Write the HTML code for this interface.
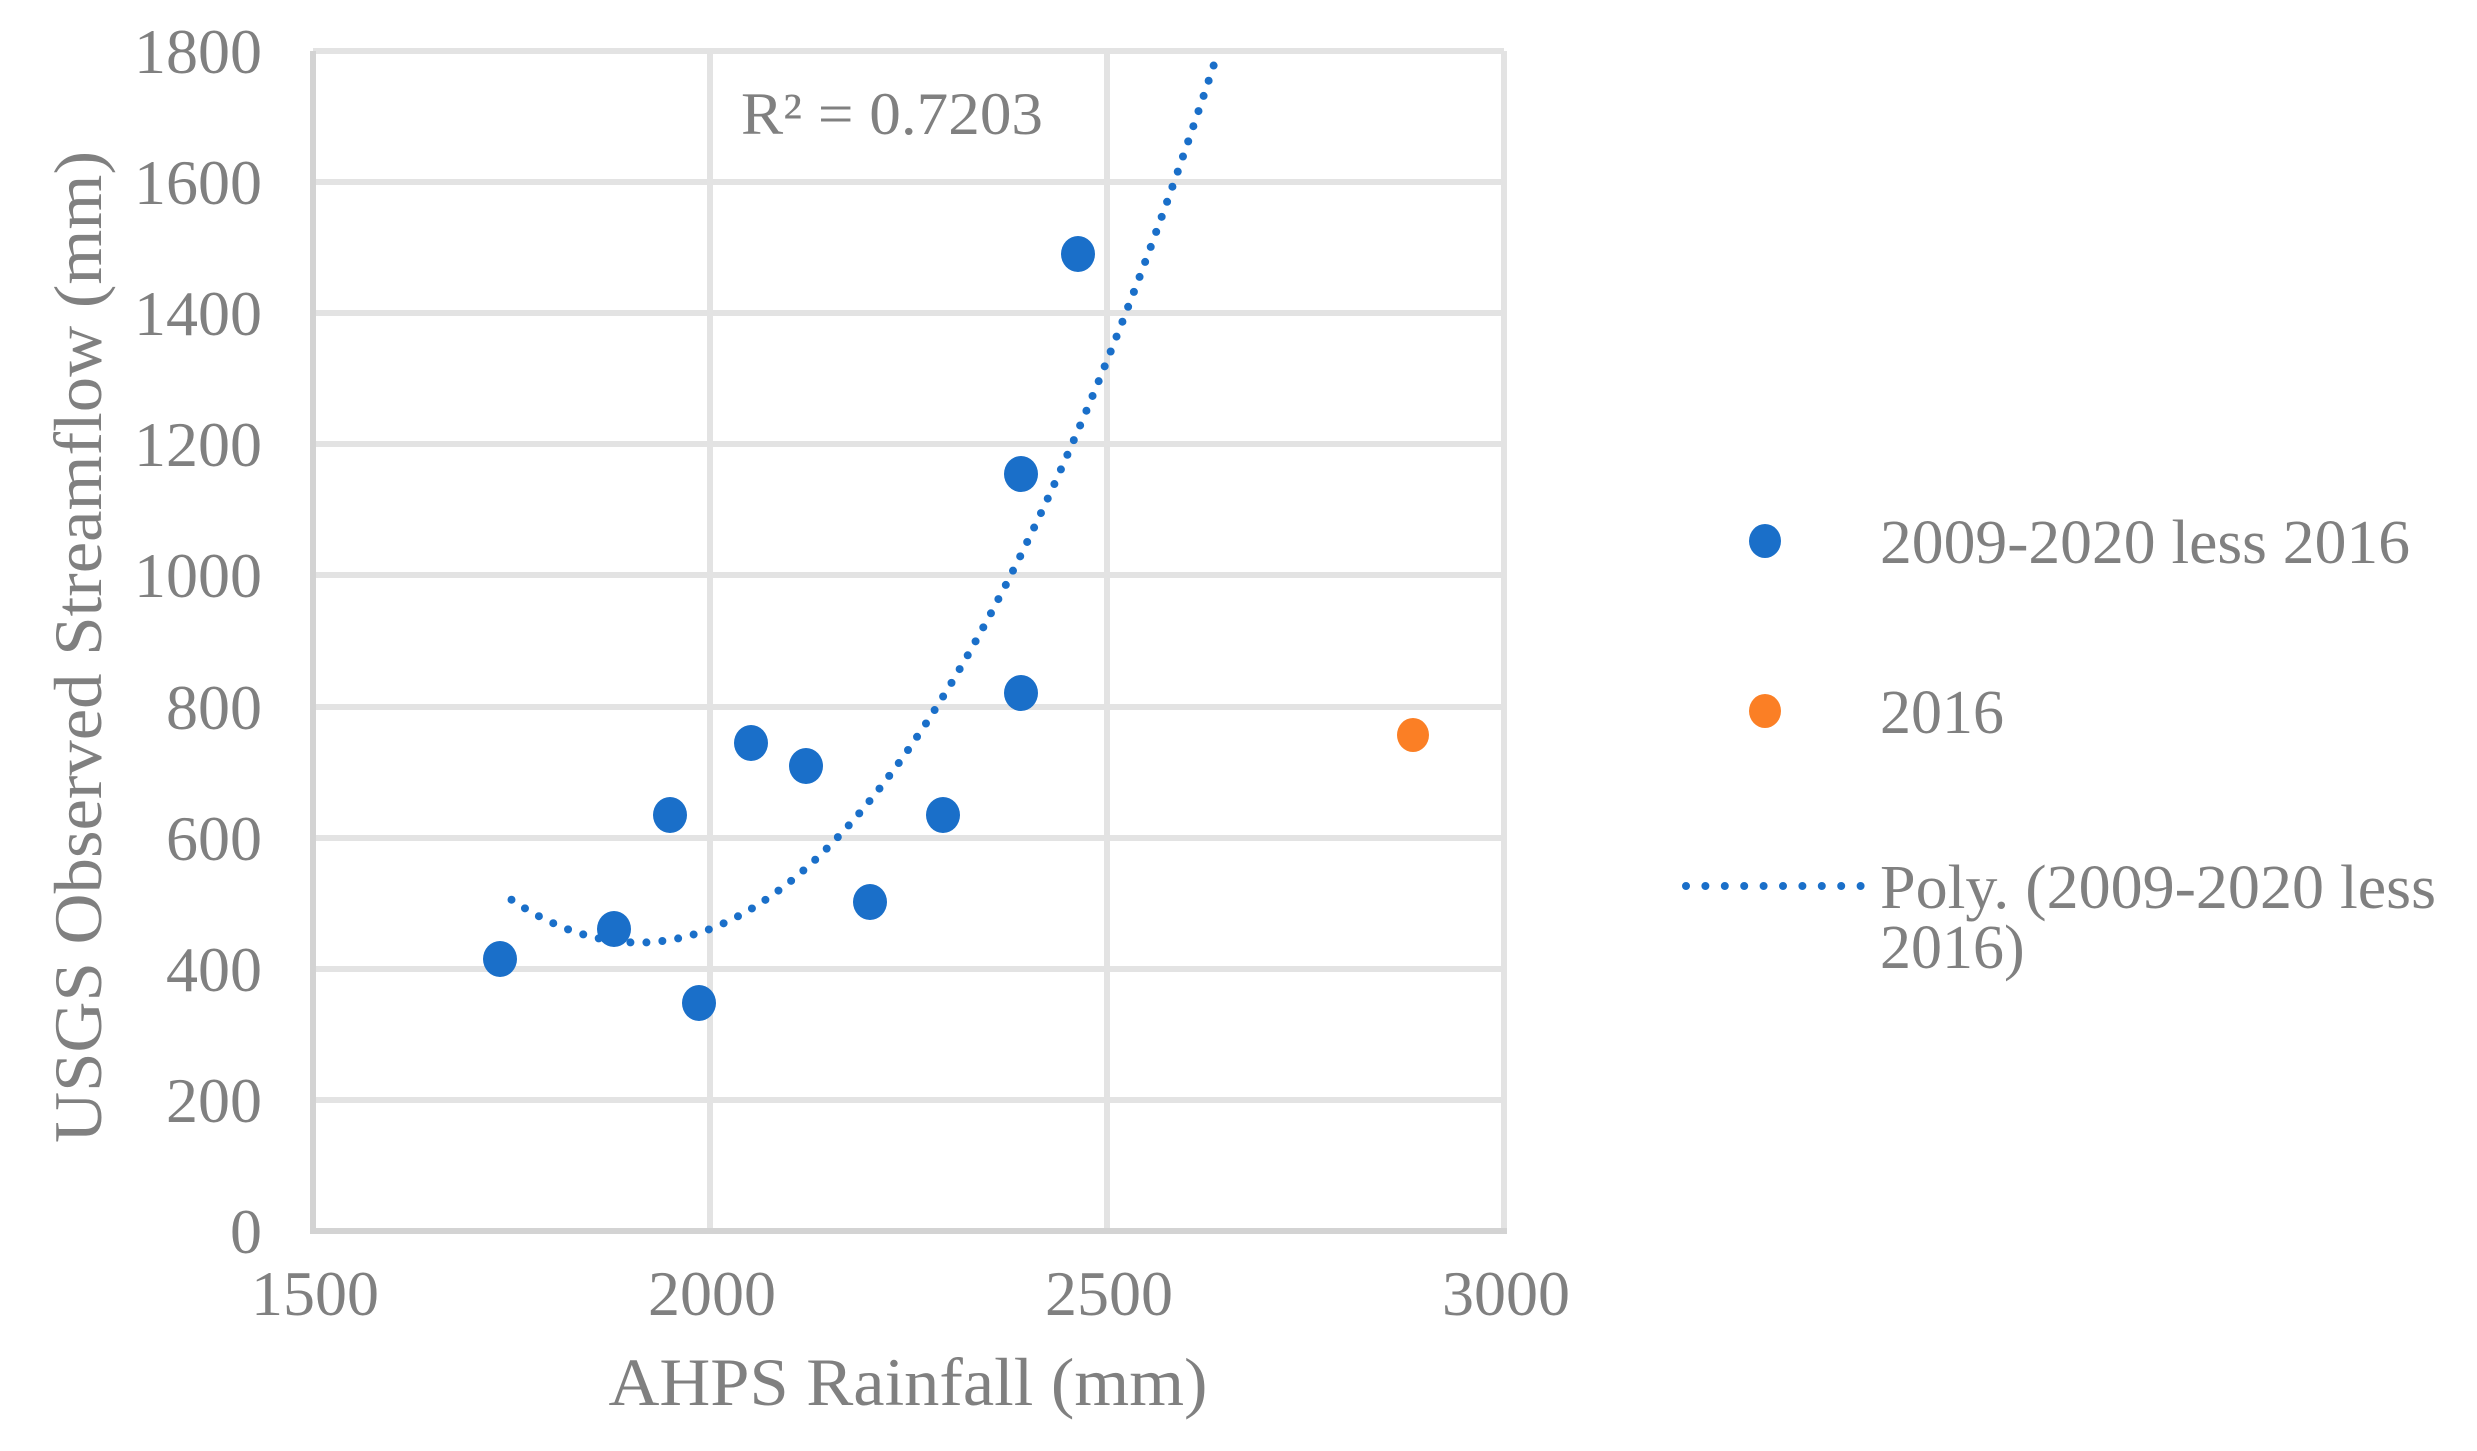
<!DOCTYPE html>
<html><head><meta charset="utf-8"><style>
html,body{margin:0;padding:0;background:#fff;}
svg text{font-family:"Liberation Serif",serif;fill:#808080;}
</style></head><body>
<svg width="2477" height="1446" viewBox="0 0 2477 1446" xmlns="http://www.w3.org/2000/svg">
<g stroke="#e3e3e3" stroke-width="6">
<line x1="313" y1="51" x2="1504" y2="51"/>
<line x1="313" y1="182" x2="1504" y2="182"/>
<line x1="313" y1="313" x2="1504" y2="313"/>
<line x1="313" y1="444" x2="1504" y2="444"/>
<line x1="313" y1="575" x2="1504" y2="575"/>
<line x1="313" y1="707" x2="1504" y2="707"/>
<line x1="313" y1="838" x2="1504" y2="838"/>
<line x1="313" y1="969" x2="1504" y2="969"/>
<line x1="313" y1="1100" x2="1504" y2="1100"/>
<line x1="710" y1="51" x2="710" y2="1231"/>
<line x1="1107" y1="51" x2="1107" y2="1231"/>
<line x1="1504" y1="51" x2="1504" y2="1231"/>
</g>
<g stroke="#d3d3d3" stroke-width="6">
<line x1="313" y1="51" x2="313" y2="1234"/>
<line x1="310" y1="1231" x2="1507" y2="1231"/>
</g>
<g font-size="64" text-anchor="end">
<text x="262" y="1253">0</text>
<text x="262" y="1122">200</text>
<text x="262" y="991">400</text>
<text x="262" y="860">600</text>
<text x="262" y="729">800</text>
<text x="262" y="597">1000</text>
<text x="262" y="466">1200</text>
<text x="262" y="335">1400</text>
<text x="262" y="204">1600</text>
<text x="262" y="73">1800</text>
</g>
<g font-size="64" text-anchor="middle">
<text x="315" y="1315">1500</text>
<text x="712" y="1315">2000</text>
<text x="1109" y="1315">2500</text>
<text x="1506" y="1315">3000</text>
</g>
<text x="908" y="1405" font-size="68" text-anchor="middle" textLength="599" lengthAdjust="spacingAndGlyphs">AHPS Rainfall (mm)</text>
<text transform="translate(101,647) rotate(-90)" font-size="68" text-anchor="middle" textLength="992" lengthAdjust="spacingAndGlyphs">USGS Observed Streamflow (mm)</text>
<text x="741" y="134" font-size="60" textLength="302" lengthAdjust="spacingAndGlyphs">R² = 0.7203</text>
<path id="fit" fill="none" stroke="#1a6fc9" stroke-width="8" stroke-linecap="round" stroke-dasharray="0 16" d=""/>
<g fill="#1a6fc9">
<ellipse cx="500" cy="959" rx="17" ry="18"/>
<ellipse cx="614" cy="929" rx="17" ry="18"/>
<ellipse cx="670" cy="815" rx="17" ry="18"/>
<ellipse cx="699" cy="1003" rx="17" ry="18"/>
<ellipse cx="751" cy="743" rx="17" ry="18"/>
<ellipse cx="806" cy="766" rx="17" ry="18"/>
<ellipse cx="870" cy="902" rx="17" ry="18"/>
<ellipse cx="943" cy="815" rx="17" ry="18"/>
<ellipse cx="1021" cy="474" rx="17" ry="18"/>
<ellipse cx="1021" cy="693" rx="17" ry="18"/>
<ellipse cx="1078" cy="254" rx="17" ry="18"/>
</g>
<ellipse cx="1413" cy="735" rx="16" ry="17" fill="#fb7f25"/>
<ellipse cx="1765" cy="541" rx="16" ry="17" fill="#1a6fc9"/>
<ellipse cx="1765" cy="711" rx="16" ry="17" fill="#fb7f25"/>
<line x1="1686" y1="886" x2="1861" y2="886" stroke="#1a6fc9" stroke-width="8" stroke-linecap="round" stroke-dasharray="0 19.4"/>
<g font-size="62">
<text x="1880" y="563" textLength="530" lengthAdjust="spacingAndGlyphs">2009-2020 less 2016</text>
<text x="1880" y="733">2016</text>
<text x="1880" y="908" textLength="556" lengthAdjust="spacingAndGlyphs">Poly. (2009-2020 less</text>
<text x="1880" y="968">2016)</text>
</g>
<script>
var d="";for(var v=1750;v<=2650;v+=5){var y=0.00255*(v-1910)*(v-1910)+440;var X=313+(v-1500)*0.794,Y=1231-y*0.6556;if(Y<51)break;d+=(d?"L":"M")+X.toFixed(1)+","+Y.toFixed(1);}
document.getElementById("fit").setAttribute("d",d);
</script>
</svg>
</body></html>
